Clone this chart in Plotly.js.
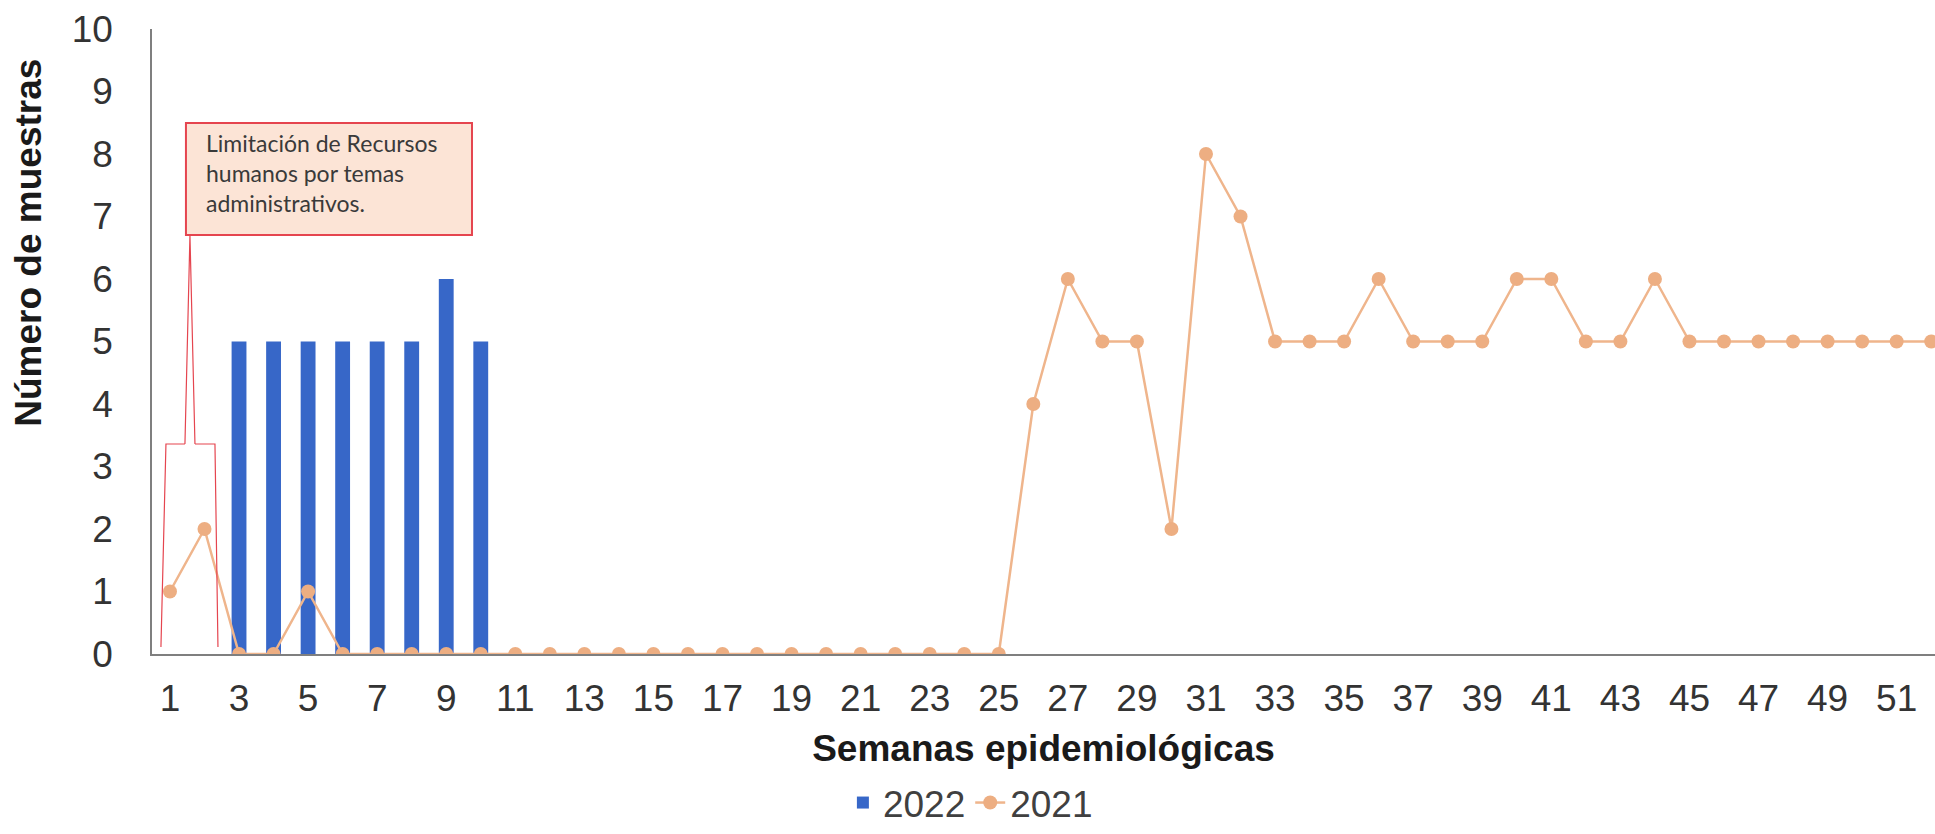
<!DOCTYPE html>
<html>
<head>
<meta charset="utf-8">
<script src="https://cdn.plot.ly/plotly-3.0.1.min.js"></script>
<style>html,body{margin:0;padding:0;background:#fff;overflow:hidden}#chart{width:1935px;height:834px}</style>
</head>
<body>
<div id="chart"></div>
<script>
// Semanas epidemiológicas (categories)
const weeks = [1,2,3,4,5,6,7,8,9,10,11,12,13,14,15,16,17,18,19,20,21,22,23,24,25,26,27,28,29,30,31,32,33,34,35,36,37,38,39,40,41,42,43,44,45,46,47,48,49,50,51,52];
// Serie 2022 (barras)
const values2022 = [null,null,5,5,5,5,5,5,6,5,null,null,null,null,null,null,null,null,null,null,null,null,null,null,null,null,null,null,null,null,null,null,null,null,null,null,null,null,null,null,null,null,null,null,null,null,null,null,null,null,null,null];
// Serie 2021 (línea)
const values2021 = [1,2,0,0,1,0,0,0,0,0,0,0,0,0,0,0,0,0,0,0,0,0,0,0,0,4,6,5,5,2,8,7,5,5,5,6,5,5,5,6,6,5,5,6,5,5,5,5,5,5,5,5];
// Etiquetas del eje x
const xTickVals = [1,3,5,7,9,11,13,15,17,19,21,23,25,27,29,31,33,35,37,39,41,43,45,47,49,51];
const xTickText = ["1","3","5","7","9","11","13","15","17","19","21","23","25","27","29","31","33","35","37","39","41","43","45","47","49","51"];
const yTickVals = [0,1,2,3,4,5,6,7,8,9,10];
const seriesNames = ["2022","2021"];
const noteText = "Limitación de Recursos<br>humanos por temas<br>administrativos.";
const xTitle = "Semanas epidemiológicas";
const yTitle = "Número de muestras";

const FONT = "Liberation Sans, Arial, sans-serif";
const red = "#E5454F";

const traces = [
  {
    type: "bar", name: seriesNames[0], x: weeks, y: values2022,
    width: 0.43,
    marker: {color: "#3767C8"},
    hoverinfo: "x+y"
  },
  {
    type: "scatter", mode: "lines+markers", name: seriesNames[1], x: weeks, y: values2021,
    line: {color: "#EFB58C", width: 2.5},
    marker: {color: "#EDAE82", size: 14},
    cliponaxis: true
  }
];

const layout = {
  width: 1935, height: 834,
  margin: {l: 152, r: 0, t: 29, b: 180, pad: 0, autoexpand: false},
  paper_bgcolor: "#ffffff", plot_bgcolor: "#ffffff",
  font: {family: FONT, color: "#404040", size: 37},
  showlegend: true,
  legend: {
    orientation: "h", xref: "paper", yref: "container",
    x: 0.459, xanchor: "center", y: 0, yanchor: "bottom",
    font: {family: FONT, size: 37, color: "#404040"},
    itemwidth: 30, tracegroupgap: 0
  },
  xaxis: {
    range: [0.48, 52.11],
    tickmode: "array", tickvals: xTickVals, ticktext: xTickText,
    ticks: "", ticklabelstandoff: 11,
    showgrid: false, zeroline: false, automargin: false,
    showline: true, linecolor: "#7f7f7f", linewidth: 1.5,
    tickfont: {family: FONT, size: 37, color: "#333333"},
    title: {text: xTitle, standoff: 17, font: {family: FONT, size: 37, color: "#1a1a1a", weight: 700}}
  },
  yaxis: {
    range: [0, 10],
    tickmode: "array", tickvals: yTickVals,
    ticks: "", ticklabelstandoff: 30,
    showgrid: false, zeroline: false, automargin: false,
    showline: true, linecolor: "#7f7f7f", linewidth: 1.5,
    tickfont: {family: FONT, size: 37, color: "#333333"}
  },
  shapes: [
    // callout box
    {type: "rect", xref: "x", yref: "y", x0: 1.463, x1: 9.746, y0: 6.704, y1: 8.496,
     fillcolor: "#FCE4D6", line: {color: red, width: 2}, layer: "above"},
    // pointer
    {type: "path", xref: "x", yref: "y", path: "M 1.434 3.36 L 1.579 6.70 L 1.724 3.36",
     line: {color: red, width: 1.2}, layer: "above"},
    // bracket
    {type: "path", xref: "x", yref: "y", path: "M 0.739 0.112 L 0.884 3.36 L 1.434 3.36 M 1.724 3.36 L 2.303 3.36 L 2.390 0.112",
     line: {color: red, width: 1.2}, layer: "above"}
  ],
  annotations: [
    {xref: "x", yref: "y", x: 2.0, y: 7.7, xanchor: "left", yanchor: "middle", align: "left",
     text: noteText, showarrow: false,
     font: {family: "Lato, Noto Sans, sans-serif", size: 23, color: "#3a3a3a"}},
    {xref: "paper", yref: "paper", x: -0.069, y: 0.658, xanchor: "center", yanchor: "middle",
     text: yTitle, textangle: -90, showarrow: false,
     font: {family: FONT, size: 37, color: "#1a1a1a", weight: 700}}
  ]
};

Plotly.newPlot("chart", traces, layout, {displayModeBar: false, responsive: false});
</script>
</body>
</html>
